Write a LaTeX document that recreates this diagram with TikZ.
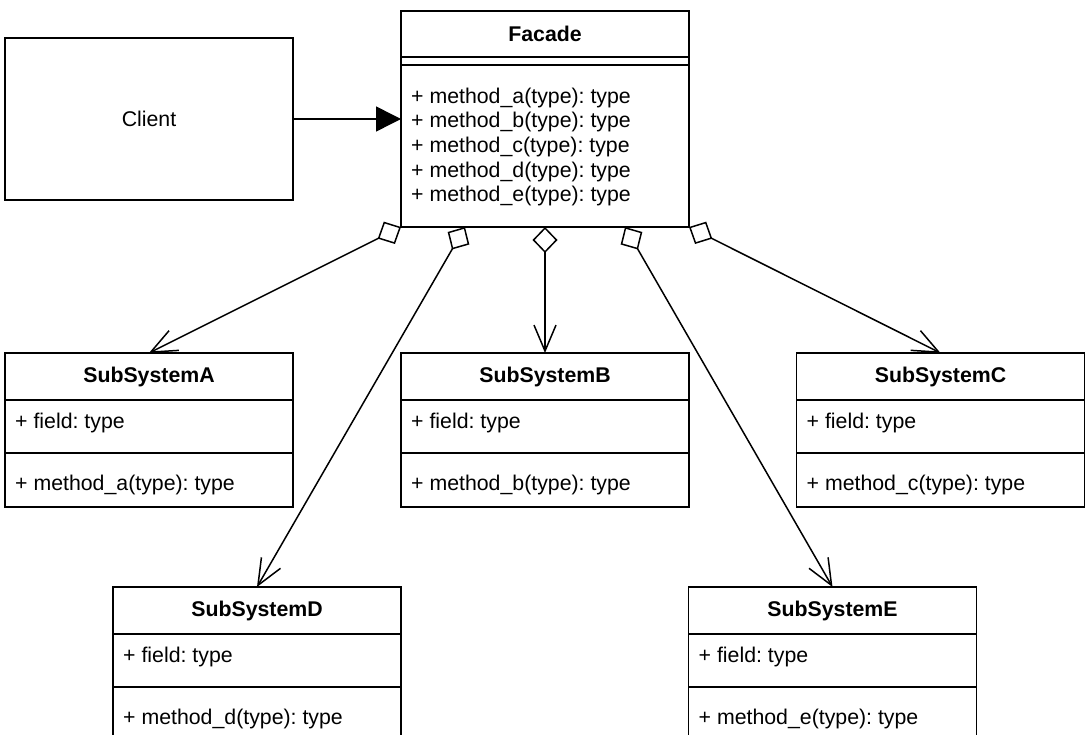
\documentclass[tikz,border=0pt]{standalone}
\usepackage{fontspec}
\setmainfont{Liberation Sans}
\usetikzlibrary{arrows.meta,calc}
\newcommand\lblfont{\fontsize{21.3}{24.6}\selectfont\frenchspacing}
\frenchspacing
\begin{document}
\begin{tikzpicture}[x=1pt,y=-1pt,
  box/.style={draw, line width=1.5pt, inner sep=0pt, outer sep=0pt, anchor=north west, minimum width=288pt, font=\lblfont},
  cls/.style={box, minimum height=154pt},
  lbl/.style={inner sep=0pt, font=\lblfont},
  ttl/.style={inner sep=0pt, font=\lblfont\bfseries},
  sep/.style={line width=1.5pt},
  link/.style={line width=1.5pt, {Diamond[open,length=26pt,width=25pt]}-{Straight Barb[length=26pt,width=22pt]}},
  call/.style={line width=1.5pt, -{Triangle[length=25pt,width=25pt]}}]

\path[use as bounding box] (0,0) rectangle (1085,735);
\clip (0,0) rectangle (1085,735);

% client
\node[box, minimum height=162pt] (client) at (5,38) {Client};

% facade class: name, empty attribute block, operations
\node[box, minimum height=216pt] (facade) at (401,11) {};
\node[ttl] (facadeT) at ($(facade.north)+(0,23)$) {Facade};
\draw[sep] ($(facade.north west)+(0,46)$) -- ($(facade.north east)+(0,46)$);
\draw[sep] ($(facade.north west)+(0,54)$) -- ($(facade.north east)+(0,54)$);
\node[lbl, anchor=west, align=left] (facadeM) at ($(facade.north west)+(10,136)$)
  {+ method\_a(type): type\\+ method\_b(type): type\\+ method\_c(type): type\\+ method\_d(type): type\\+ method\_e(type): type};

% subsystem classes
\foreach \n/\px/\py/\L/\m in {subA/5/353/A/a, subB/401/353/B/b, subC/796.5/353/C/c, subD/113/587/D/d, subE/688.5/587/E/e} {
  \node[cls] (\n) at (\px,\py) {};
  \draw[sep] ($(\n.north west)+(0,47)$) -- ($(\n.north east)+(0,47)$);
  \draw[sep] ($(\n.north west)+(0,100)$) -- ($(\n.north east)+(0,100)$);
  \node[ttl] (\n-title) at ($(\n.north)+(0,24)$) {SubSystem\L};
  \node[lbl, anchor=west] (\n-field) at ($(\n.north west)+(10,70)$) {+ field: type};
  \node[lbl, anchor=west] (\n-method) at ($(\n.north west)+(10,132)$) {+ method\_\m(type): type};
}

% connectors
\draw[call] (client.east) -- (client.east -| facade.west);
\draw[link] (facade.south west) -- (subA.north);
\draw[link] ($(facade.south)+(-80,0)$) -- (subD.north);
\draw[link] (facade.south) -- (subB.north);
\draw[link] ($(facade.south)+(80,0)$) -- (subE.north);
\draw[link] (facade.south east) -- (subC.north);
\end{tikzpicture}
\end{document}
